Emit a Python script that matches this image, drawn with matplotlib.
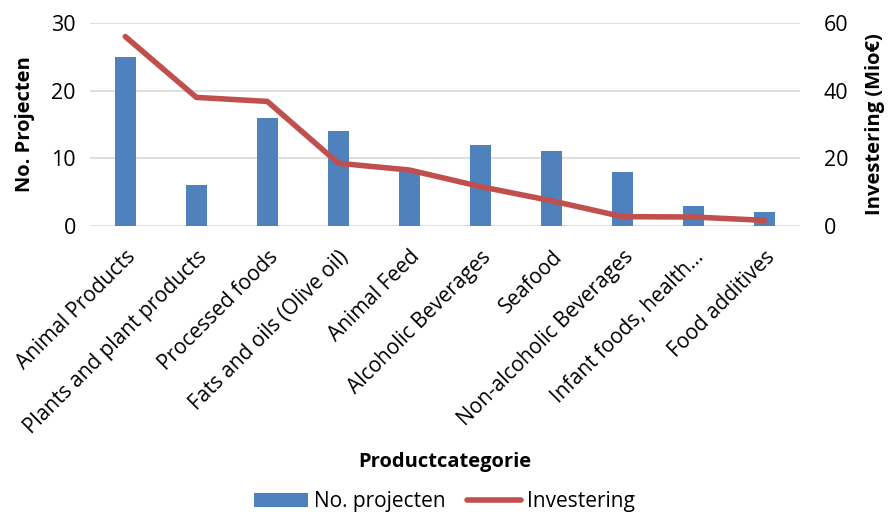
import matplotlib
matplotlib.use('Agg')
import matplotlib.pyplot as plt
import numpy as np

plt.rcParams['font.family'] = ['Open Sans', 'DejaVu Sans']

categories = ['Animal Products', 'Plants and plant products', 'Processed foods',
              'Fats and oils (Olive oil)', 'Animal Feed', 'Alcoholic Beverages',
              'Seafood', 'Non-alcoholic Beverages', 'Infant foods, health\u2026',
              'Food additives']
projecten = [25, 6, 16, 14, 8, 12, 11, 8, 3, 2]
investering = [56, 38, 36.8, 18.5, 16.5, 11.6, 7.4, 2.7, 2.6, 1.6]

blue = '#4F81BD'
red = '#C0504D'

fig = plt.figure(figsize=(8.89, 5.12), dpi=100)
ax = fig.add_axes([0.101, 0.559, 0.799, 0.396])
ax2 = ax.twinx()

x = np.arange(len(categories))
b = ax.bar(x, projecten, width=0.3, color=blue, label='No. projecten', zorder=2)
l, = ax2.plot(x, investering, color=red, linewidth=4, solid_capstyle='round',
              label='Investering', zorder=3)

ax.set_xlim(-0.5, len(categories) - 0.5)
ax.set_ylim(0, 30)
ax.set_yticks([0, 10, 20, 30])
ax2.set_ylim(0, 60)
ax2.set_yticks([0, 20, 40, 60])
ax.yaxis.grid(True, color='#D9D9D9', linewidth=1.2, zorder=0)
ax.set_axisbelow(True)

for a in (ax, ax2):
    for s in a.spines.values():
        s.set_visible(False)
    a.tick_params(length=0, labelsize=15.5)

ax.tick_params(axis='y', pad=10)
ax2.tick_params(axis='y', pad=17)
ax.set_xticks(x)
ax.set_xticklabels(categories, rotation=45, ha='right', rotation_mode='anchor', fontsize=15)
ax.tick_params(axis='x', pad=15)

ax.set_ylabel('No. Projecten', fontsize=14.5, fontweight='bold', labelpad=12)
ax2.set_ylabel('Investering (Mio\u20ac)', fontsize=14.5, fontweight='bold', labelpad=12)
fig.text(0.5, 0.098, 'Productcategorie', ha='center', va='center', fontsize=14.5, fontweight='bold')

fig.legend([b, l], ['No. projecten', 'Investering'], loc='center', bbox_to_anchor=(0.5, 0.02),
           ncol=2, frameon=False, fontsize=15, handlelength=2.6, columnspacing=1.0,
           handletextpad=0.3)

fig.savefig('out.png', dpi=100)
plt.close()
